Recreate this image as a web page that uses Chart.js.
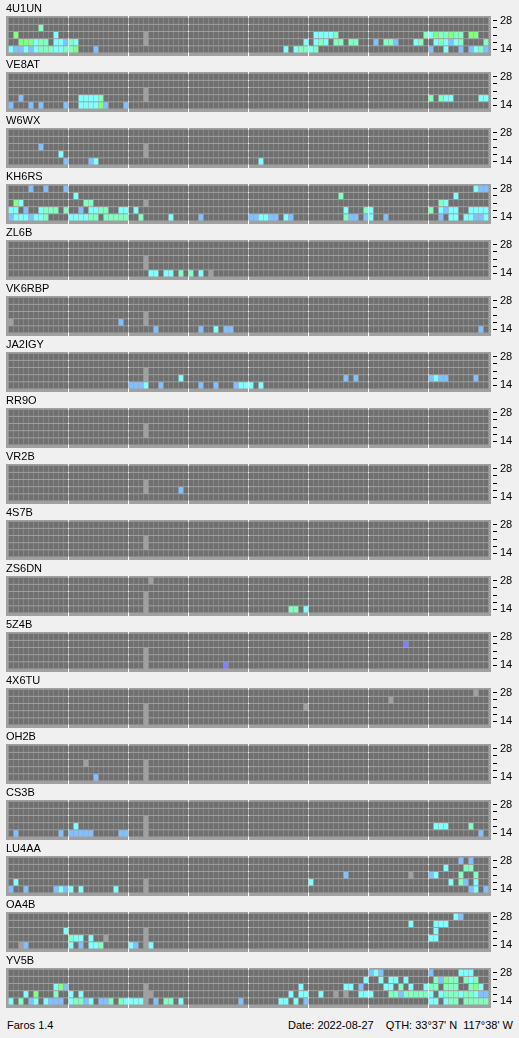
<!DOCTYPE html>
<html>
<head>
<meta charset="utf-8">
<script src="https://cdn.jsdelivr.net/npm/chart.js@4.4.0/dist/chart.umd.min.js"></script>
<style>
  body { margin: 0; background: #f0f0f0; width: 519px; height: 1038px; overflow: hidden; position: relative;
         font-family: "Liberation Sans", Arial, sans-serif; }
  canvas { display: block; }
  #footer { position: absolute; top: 1019px; left: 0; width: 519px; height: 16px; font-size: 11px; line-height: 13px; color: #000; white-space: pre; }
  #footer .left { position: absolute; left: 7px; }
  #footer .right { position: absolute; right: 6px; }
</style>
</head>
<body>
<div id="panels"></div>
<div id="footer"><span class="left">Faros 1.4</span><span class="right">Date: 2022-08-27    QTH: 33°37' N  117°38' W</span></div>
<script>
// beacon stations, top to bottom
const stations = ['4U1UN', 'VE8AT', 'W6WX', 'KH6RS', 'ZL6B', 'VK6RBP', 'JA2IGY', 'RR9O', 'VR2B',
  '4S7B', 'ZS6DN', '5Z4B', '4X6TU', 'OH2B', 'CS3B', 'LU4AA', 'OA4B', 'YV5B'];

// rows: 28, 24, 21, 18, 14 MHz
const bandLabels = ['28', '', '', '', '14'];
const slotCount = 96;          // 15 minute slots over the day
const dividers = [11.5, 23.5, 35.5, 47.5, 59.5, 71.5, 83.5];

// "slot:level" per band row. level 0 = no data, 1..5 = signal strength
const spots = [
  ['', '6:4',
   '1:5 9:3 27:0 61:3 62:3 63:3 64:3 65:4 83:4 84:3 85:5 86:4 87:4 88:5 89:4 90:4 92:5 93:5',
   '2:5 3:5 4:5 5:3 6:4 7:4 9:3 10:3 11:2 12:4 13:3 27:0 59:3 61:3 62:4 63:3 65:4 66:4 68:4 69:4 73:2 75:4 76:4 77:2 81:3 82:4 85:3 86:4 87:3 88:2 89:3 90:4 95:4',
   '0:3 1:2 2:2 3:3 4:2 5:3 6:4 7:4 8:4 9:3 10:3 11:4 12:4 13:5 17:2 55:3 57:3 58:4 59:4 60:3 61:4 84:2 87:3 90:2 92:2 93:3 94:4 95:2'],
  ['', '', '27:0',
   '2:2 14:3 15:3 16:3 17:3 18:4 27:0 84:4 86:4 87:3 88:3 94:3 95:3',
   '0:2 4:2 6:2 11:2 14:3 15:3 16:3 17:3 18:5 19:2 23:2'],
  ['', '', '6:2 27:0', '10:3 27:0', '11:2 16:2 17:3 50:3'],
  ['4:2 7:2 11:2 93:3 94:2 95:2',
   '13:3 66:4 89:3',
   '1:5 2:3 15:4 16:4 27:0 86:4 87:3',
   '0:3 1:3 3:2 6:3 7:4 8:4 9:4 11:4 14:2 16:3 17:3 18:4 19:4 22:3 23:3 25:3 67:3 71:4 72:3 84:4 86:3 87:2 88:3 89:3 92:3 93:3 94:3 95:3',
   '0:2 1:3 2:3 3:3 4:2 5:3 6:3 7:4 12:3 13:3 14:3 15:3 16:4 17:4 19:4 20:4 21:4 22:4 23:4 26:4 32:3 38:2 48:2 49:2 50:3 51:3 52:2 53:2 55:3 56:2 67:4 68:2 69:2 71:2 72:3 75:2 86:2 88:3 89:3 91:3 92:3 93:2 94:2 95:3'],
  ['', '', '27:0', '27:0', '28:3 29:3 31:3 32:3 34:4 36:4 38:3 40:0'],
  ['', '', '27:0', '0:0 22:2 27:0', '29:2 38:2 41:3 43:2 44:2 94:2'],
  ['', '', '27:0', '27:0 34:3 67:2 69:2 84:2 85:3 86:2 87:2 93:2',
   '24:2 25:2 26:2 27:3 30:2 38:2 41:2 45:2 46:3 47:3 48:3 50:3'],
  ['', '', '27:0', '27:0', ''],
  ['', '', '27:0', '27:0 34:2', ''],
  ['', '', '27:0', '27:0', ''],
  ['28:0', '', '27:0', '27:0', '27:0 56:4 57:4 59:3'],
  ['', '79:1', '27:0', '27:0', '27:0 43:1'],
  ['93:0', '76:0', '27:0 59:0', '27:0', '27:0'],
  ['', '', '15:0 27:0', '27:0', '17:2 27:0'],
  ['', '', '27:0', '13:3 27:0 85:3 86:3 87:3 92:4',
   '1:2 10:2 12:2 13:2 14:2 15:2 16:2 22:2 23:2 27:0 94:2'],
  ['90:2 92:2', '87:3 91:4 92:4', '67:2 80:0 84:2 85:3 90:4 93:4',
   '1:3 27:0 60:3 88:3 90:4 91:2 93:3',
   '0:2 3:2 9:2 10:3 11:2 12:3 14:3 21:3 27:0 92:2 93:3 95:2'],
  ['89:3 90:2', '80:3 85:3 86:3 87:3', '11:3 27:0 85:3',
   '12:4 13:3 14:3 16:3 19:0 27:0 84:3 85:3',
   '2:0 3:2 12:3 14:2 16:3 17:3 18:4 24:3 25:2 27:0 28:3'],
  ['72:2 73:3 74:2 84:2 90:3 91:3 92:3',
   '71:3 74:3 76:3 77:3 79:3 85:4 86:2 87:5 88:4 89:4 91:4 92:3 93:4',
   '9:3 10:5 11:2 27:0 58:3 67:3 68:3 70:2 75:3 76:3 78:4 80:3 83:3 84:4 85:4 87:4 88:4 89:4 92:4 93:5 94:3',
   '3:3 5:5 9:4 12:3 14:3 27:0 28:0 56:3 58:3 59:3 62:3 65:0 67:0 70:3 71:3 72:3 76:4 77:4 78:2 79:4 80:4 81:4 82:4 83:4 84:3 86:3 87:4 88:4 89:4 90:3 91:4 92:4 93:3 94:2 95:2',
   '0:3 2:4 4:2 5:3 7:3 8:2 9:2 10:2 12:3 13:4 14:4 15:2 16:3 18:2 19:2 20:4 22:4 23:3 24:3 25:3 26:3 27:0 29:2 31:4 32:4 34:3 46:2 54:3 55:3 57:3 59:2 84:3 85:3 87:3 88:4 89:4 91:4 92:4 93:4 94:4 95:4']
];

const levelColors = ['#a0a0a0', '#8080ff', '#80c0ff', '#80ffff', '#80ffc0', '#80ff80'];
const emptyColor = '#707070';
const FONT = '"Liberation Sans", Arial, sans-serif';

const cellHalf = 0.385;
const yMin = -0.671, yMax = 4.923;

function parseRow(str) {
  const levels = new Array(slotCount).fill(null);
  str.split(' ').filter(Boolean).forEach(p => {
    const [slot, level] = p.split(':').map(Number);
    levels[slot] = level;
  });
  return levels;
}

const panelBackground = {
  id: 'panelBackground',
  beforeDraw(chart) {
    const { ctx, chartArea: a } = chart;
    ctx.save();
    ctx.fillStyle = '#a0a0a0';
    ctx.fillRect(a.left, a.top, a.right - a.left, a.bottom - a.top);
    ctx.restore();
  }
};

const holder = document.getElementById('panels');

stations.forEach((name, i) => {
  const canvas = document.createElement('canvas');
  canvas.width = 519;
  canvas.height = 56;
  holder.appendChild(canvas);

  const datasets = spots[i].map(parseRow).map((levels, row) => ({
    label: name + ' ' + row,
    data: levels.map((lv, slot) => ({ x: slot, y: [row - cellHalf, row + cellHalf], level: lv })),
    backgroundColor: c => (c.raw && c.raw.level !== null && c.raw.level !== undefined) ? levelColors[c.raw.level] : emptyColor,
    borderWidth: 0,
    barThickness: 4,
    grouped: false
  }));

  new Chart(canvas, {
    type: 'bar',
    data: { datasets },
    plugins: [panelBackground],
    options: {
      responsive: false,
      animation: false,
      events: [],
      layout: { padding: { left: 6, right: 0, top: 0, bottom: 0 } },
      plugins: {
        legend: { display: false },
        tooltip: { enabled: false },
        title: {
          display: true, text: name, align: 'start', color: '#000',
          font: { family: FONT, size: 11, weight: 'normal', lineHeight: 1.2 },
          padding: { top: 2, bottom: 0.8 }
        }
      },
      scales: {
        x: {
          type: 'linear', min: -1, max: slotCount, offset: false,
          afterBuildTicks: s => { s.ticks = dividers.map(v => ({ value: v })); },
          afterFit: s => { s.height = 0; s.paddingLeft = 0; s.paddingRight = 0; },
          ticks: { display: false },
          grid: { color: '#ffffff', lineWidth: 1, drawTicks: false, offset: false },
          border: { display: false }
        },
        y: {
          type: 'linear', position: 'right', reverse: true, min: yMin, max: yMax,
          afterBuildTicks: s => { s.ticks = bandLabels.map((_, r) => ({ value: r })); },
          afterFit: s => { s.width = 28; s.paddingTop = 0; s.paddingBottom = 0; },
          ticks: {
            autoSkip: false, padding: 3, color: '#000',
            font: { family: FONT, size: 11 },
            callback: v => bandLabels[v] || ''
          },
          grid: {
            drawOnChartArea: false, drawTicks: true, tickLength: 6, tickColor: '#000', lineWidth: 1,
            tickBorderDash: [4, 10], tickBorderDashOffset: 12
          },
          border: { display: false }
        }
      }
    }
  });
});
</script>
</body>
</html>
